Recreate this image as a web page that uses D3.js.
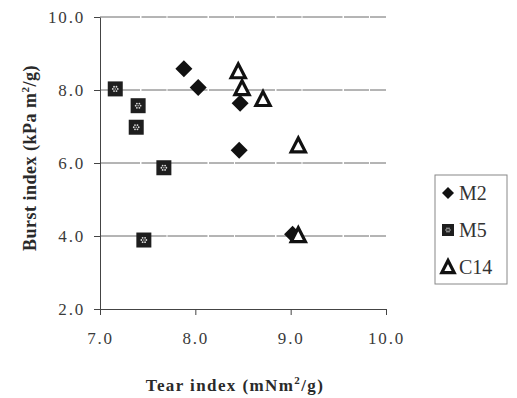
<!DOCTYPE html>
<html>
<head>
<meta charset="utf-8">
<script src="https://cdn.jsdelivr.net/npm/d3@7"></script>
<style>
  body { margin: 0; background: #fff; }
  text { font-family: "Liberation Serif", "Times New Roman", serif; }
</style>
</head>
<body>
<div id="chart"></div>
<script>
// data
var m2X = [7.88, 8.03, 8.47, 8.46, 9.02];
var m2Y = [8.58, 8.07, 7.64, 6.35, 4.05];
var m5X = [7.16, 7.40, 7.38, 7.67, 7.46];
var m5Y = [8.03, 7.57, 6.98, 5.87, 3.89];
var c14X = [8.45, 8.49, 8.71, 9.08, 9.08];
var c14Y = [8.51, 8.05, 7.75, 6.48, 4.02];
var xTicks = [7, 8, 9, 10];
var yTicks = [2, 4, 6, 8, 10];
var seriesNames = ["M2", "M5", "C14"];

var svgWidth = 517;
var svgHeight = 398;
var margin = { top: 17, right: 131, bottom: 89, left: 100 };
var width = svgWidth - margin.left - margin.right;
var height = svgHeight - margin.top - margin.bottom;

var svg = d3.select("#chart").append("svg")
    .attr("width", svgWidth)
    .attr("height", svgHeight);

var chartGroup = svg.append("g")
    .attr("transform", `translate(${margin.left}, ${margin.top})`);

var xScale = d3.scaleLinear().domain([7, 10]).range([0, width]);
var yScale = d3.scaleLinear().domain([2, 10]).range([height, 0]);

// gridlines
chartGroup.append("g")
    .selectAll("line")
    .data(yTicks.slice(1))
    .enter()
    .append("line")
    .attr("x1", 0)
    .attr("x2", width)
    .attr("y1", d => yScale(d))
    .attr("y2", d => yScale(d))
    .attr("stroke", "#6a6a6a")
    .attr("stroke-width", 1)
    .attr("stroke-dasharray", "40,1.5,25,1");

// axes
var bottomAxis = d3.axisBottom(xScale).tickValues(xTicks).tickSize(6).tickSizeOuter(0)
    .tickFormat(d3.format(".1f"));
var leftAxis = d3.axisLeft(yScale).tickValues(yTicks).tickSize(6).tickSizeOuter(0)
    .tickFormat(d3.format(".1f"));

var xg = chartGroup.append("g")
    .attr("transform", `translate(0, ${height})`)
    .call(bottomAxis);
var yg = chartGroup.append("g").call(leftAxis);

[xg, yg].forEach(function(g) {
  g.select(".domain").attr("stroke", "#444");
  g.selectAll(".tick line").attr("stroke", "#444");
  g.selectAll(".tick text")
      .attr("fill", "#3a3a3a")
      .style("font-size", "17px")
      .style("letter-spacing", "1.8px")
      .style("font-family", "Liberation Serif, serif");
});
xg.selectAll(".tick text").attr("dy", "1.5em");
yg.selectAll(".tick text").attr("x", -15);

// marker shapes
function drawDiamond(g, s) {
  g.append("path")
      .attr("d", `M0,${-s}L${s},0L0,${s}L${-s},0Z`)
      .attr("fill", "#111");
}
function drawSquare(g, s) {
  g.append("rect")
      .attr("x", -s).attr("y", -s)
      .attr("width", 2 * s).attr("height", 2 * s)
      .attr("fill", "#1e1e1e");
  var r = s * 0.33;
  d3.range(6).forEach(function(i) {
    var a = i * Math.PI / 3;
    g.append("circle")
        .attr("cx", r * Math.cos(a)).attr("cy", r * Math.sin(a))
        .attr("r", s * 0.12).attr("fill", "#ddd");
  });
  g.append("circle").attr("r", s * 0.1).attr("fill", "#bbb");
}
function drawTriangle(g, s) {
  g.append("path")
      .attr("d", `M0,${-s}L${s * 0.95},${s * 0.85}L${-s * 0.95},${s * 0.85}Z`)
      .attr("fill", "#fff")
      .attr("stroke", "#111")
      .attr("stroke-width", 3.2)
      .attr("stroke-linejoin", "miter");
}

function plotSeries(xs, ys, drawFn, s) {
  chartGroup.append("g")
      .selectAll("g")
      .data(d3.zip(xs, ys))
      .enter()
      .append("g")
      .attr("transform", d => `translate(${xScale(d[0])}, ${yScale(d[1])})`)
      .each(function() { drawFn(d3.select(this), s); });
}

plotSeries(m5X, m5Y, drawSquare, 7.5);
plotSeries(m2X, m2Y, drawDiamond, 8.5);
plotSeries(c14X, c14Y, drawTriangle, 7.5);

// axis titles
svg.append("text")
    .attr("x", 235)
    .attr("y", 391)
    .attr("text-anchor", "middle")
    .style("font-size", "17px")
    .style("font-weight", "bold")
    .style("letter-spacing", "1.4px")
    .attr("fill", "#2a2a2a")
    .html('Tear index (mNm<tspan dy="-7" font-size="11px">2</tspan><tspan dy="7">/g)</tspan>');

svg.append("text")
    .attr("transform", "translate(36, 158) rotate(-90)")
    .attr("text-anchor", "middle")
    .style("font-size", "18px")
    .style("font-weight", "bold")
    .style("letter-spacing", "0.5px")
    .attr("fill", "#2a2a2a")
    .html('Burst index (kPa m<tspan dy="-7" font-size="11px">2</tspan><tspan dy="7">/g)</tspan>');

// legend
var legend = svg.append("g").attr("transform", "translate(435, 175)");
legend.append("rect")
    .attr("width", 72)
    .attr("height", 109)
    .attr("fill", "none")
    .attr("stroke", "#888")
    .attr("stroke-width", 1);

var legendDraw = [drawDiamond, drawSquare, drawTriangle];
var legendSize = [6, 6, 6.5];
seriesNames.forEach(function(name, i) {
  var item = legend.append("g").attr("transform", `translate(13, ${18 + i * 37})`);
  legendDraw[i](item, legendSize[i]);
  item.append("text")
      .attr("x", 11)
      .attr("y", 7)
      .style("font-size", "20px")
      .attr("fill", "#333")
      .text(name);
});
</script>
</body>
</html>
